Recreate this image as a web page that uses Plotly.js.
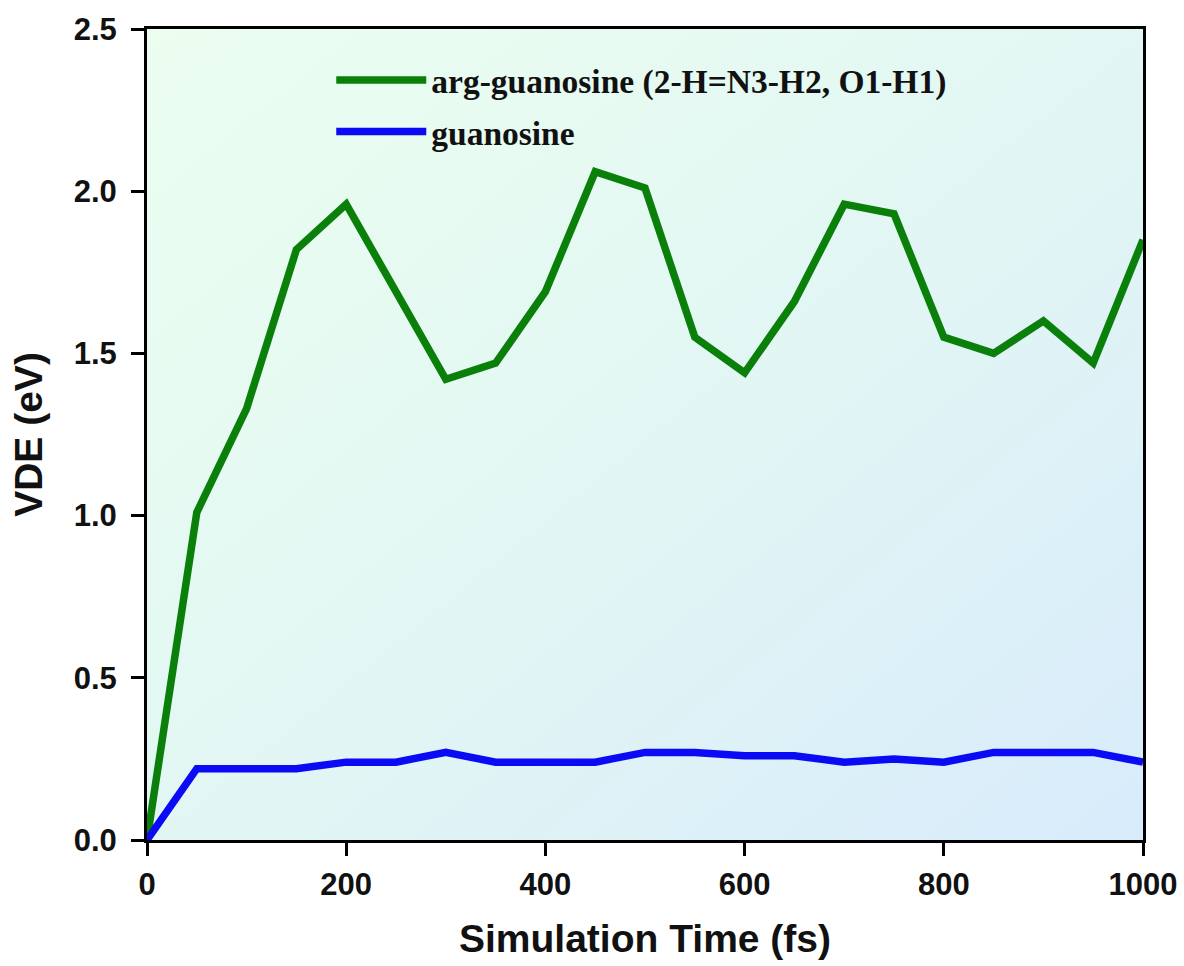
<!DOCTYPE html>
<html>
<head>
<meta charset="utf-8">
<script src="https://cdn.plot.ly/plotly-3.0.1.min.js"></script>
<style>
  html, body { margin: 0; padding: 0; background: #ffffff; }
  #wrap { position: relative; width: 1184px; height: 966px; }
  #bg { position: absolute; left: 147px; top: 29px; width: 996px; height: 811px;
        background: linear-gradient(to bottom right, #ebfef0 0%, #e3f8f3 45%, #d8ebfb 100%); }
  #chart { position: absolute; left: 0; top: 0; width: 1184px; height: 966px; }
</style>
</head>
<body>
<div id="wrap">
  <div id="bg"></div>
  <div id="chart"></div>
</div>
<script>
const timeFs = [0, 50, 100, 150, 200, 250, 300, 350, 400, 450, 500, 550, 600, 650, 700, 750, 800, 850, 900, 950, 1000];
const argGuanosine = [0, 1.01, 1.33, 1.82, 1.96, 1.69, 1.42, 1.47, 1.69, 2.06, 2.01, 1.55, 1.44, 1.66, 1.96, 1.93, 1.55, 1.50, 1.60, 1.47, 1.85];
const guanosine = [0, 0.22, 0.22, 0.22, 0.24, 0.24, 0.27, 0.24, 0.24, 0.24, 0.27, 0.27, 0.26, 0.26, 0.24, 0.25, 0.24, 0.27, 0.27, 0.27, 0.24];
const seriesNames = ['arg-guanosine (2-H=N3-H2, O1-H1)', 'guanosine'];
const xTicks = [0, 200, 400, 600, 800, 1000];
const yTicks = [0.0, 0.5, 1.0, 1.5, 2.0, 2.5];

const traces = [
  { x: timeFs, y: argGuanosine, name: seriesNames[0], legendgroup: 'a', mode: 'lines', type: 'scatter',
    line: { color: '#0a800a', width: 7.5 } },
  { x: timeFs, y: guanosine, name: seriesNames[1], legendgroup: 'b', mode: 'lines', type: 'scatter',
    line: { color: '#0a0af5', width: 7.5 } }
];

const sansBold = 'Liberation Sans, Arial, sans-serif';
const tickFont = { family: sansBold, size: 31, color: '#111', weight: 700 };
const titleFont = { family: sansBold, size: 39, color: '#111', weight: 700 };

const layout = {
  width: 1184, height: 966,
  margin: { l: 147, r: 41, t: 29, b: 126, pad: 0 },
  paper_bgcolor: 'rgba(0,0,0,0)',
  plot_bgcolor: 'rgba(0,0,0,0)',
  showlegend: true,
  legend: {
    x: 0.185, y: 0.972, xanchor: 'left', yanchor: 'top',
    bgcolor: 'rgba(0,0,0,0)', borderwidth: 0,
    itemwidth: 90, tracegroupgap: 5,
    font: { family: 'Liberation Serif, Times New Roman, serif', size: 33.5, color: '#111', weight: 700 }
  },
  xaxis: {
    range: [0, 1000], tickvals: xTicks, ticktext: xTicks.map(String),
    showgrid: false, zeroline: false,
    showline: true, linecolor: '#000', linewidth: 3, mirror: true,
    ticks: 'outside', ticklen: 13, tickwidth: 3, tickcolor: '#000',
    tickfont: tickFont, ticklabelstandoff: 2,
    title: { text: 'Simulation Time (fs)', standoff: 24, font: titleFont }
  },
  yaxis: {
    range: [0, 2.5], tickvals: yTicks, ticktext: yTicks.map(v => v.toFixed(1)),
    showgrid: false, zeroline: false,
    showline: true, linecolor: '#000', linewidth: 3, mirror: true,
    ticks: 'outside', ticklen: 13, tickwidth: 3, tickcolor: '#000',
    tickfont: tickFont, ticklabelstandoff: 8,
    title: { text: 'VDE (eV)', standoff: 20, font: titleFont }
  }
};

Plotly.newPlot('chart', traces, layout, { displayModeBar: false, staticPlot: true });
</script>
</body>
</html>
